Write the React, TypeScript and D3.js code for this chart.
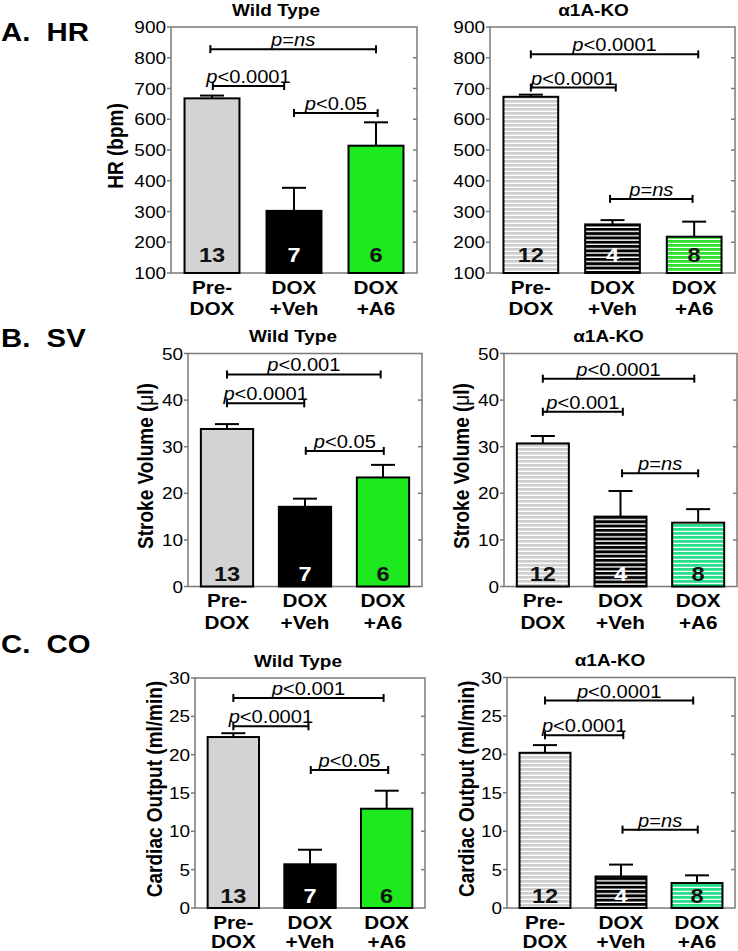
import React from 'react';
import * as d3 from 'd3';

// groups on the x axis
const groups = ['Pre-DOX', 'DOX+Veh', 'DOX+A6'];
const groupLines = [['Pre-', 'DOX'], ['DOX', '+Veh'], ['DOX', '+A6']];

// animals per group
const nWT = [13, 7, 6];
const nKO = [12, 4, 8];

// means and SEM
const hrWT = [668, 302, 514];
const hrWTsem = [9, 75, 76];
const hrKO = [673, 258, 218];
const hrKOsem = [7, 14, 49];

const svWT = [33.8, 17.1, 23.4];
const svWTsem = [1.05, 1.75, 2.7];
const svKO = [30.7, 15.0, 13.7];
const svKOsem = [1.6, 5.5, 2.9];

const coWT = [22.3, 5.7, 12.95];
const coWTsem = [0.5, 1.9, 2.35];
const coKO = [20.2, 4.1, 3.25];
const coKOsem = [1.0, 1.55, 1.0];

// significance brackets: from/to in group positions, y in data units
const hrWTp = [
    { from: -0.02, to: 2.0, y: 828, label: 'p=ns' },
    { from: 0.01, to: 0.88, y: 708, label: 'p<0.0001' },
    { from: 1.0, to: 2.02, y: 620, label: 'p<0.05' },
];
const hrKOp = [
    { from: 0, to: 2.05, y: 811, label: 'p<0.0001' },
    { from: 0, to: 1.04, y: 703, label: 'p<0.0001' },
    { from: 0.97, to: 1.98, y: 341, label: 'p=ns' },
];
const svWTp = [
    { from: 0, to: 1.97, y: 45.5, label: 'p<0.001' },
    { from: 0, to: 0.99, y: 39.3, label: 'p<0.0001' },
    { from: 1.01, to: 2.01, y: 29.1, label: 'p<0.05' },
];
const svKOp = [
    { from: 0, to: 1.95, y: 44.6, label: 'p<0.0001' },
    { from: 0, to: 1.03, y: 37.5, label: 'p<0.001' },
    { from: 1.02, to: 2.0, y: 24.3, label: 'p=ns' },
];
const coWTp = [
    { from: 0, to: 1.96, y: 27.4, label: 'p<0.001' },
    { from: 0, to: 0.98, y: 23.7, label: 'p<0.0001' },
    { from: 1.01, to: 2.02, y: 18.0, label: 'p<0.05' },
];
const coKOp = [
    { from: 0, to: 1.95, y: 27.0, label: 'p<0.0001' },
    { from: 0, to: 1.03, y: 22.5, label: 'p<0.0001' },
    { from: 1.02, to: 2.01, y: 10.2, label: 'p=ns' },
];

const hrTicks = d3.range(100, 901, 100);
const svTicks = d3.range(0, 51, 10);
const coTicks = d3.range(0, 31, 5);

const FONT = '"Liberation Sans", Arial, Helvetica, sans-serif';
const SX = 1.15; // the figure's text is a little wide

const wtFills = ['#d3d3d3', '#000000', '#1ee81e'];
const wtN = ['#111', '#fff', '#111'];

interface PanelCfg {
    title: string;
    yLabel?: React.ReactNode;
    ko: boolean;
    means: number[];
    sems: number[];
    n: number[];
    brackets: { from: number; to: number; y: number; label: string }[];
    domain: [number, number];
    ticks: number[];
    x0: number; x1: number; yt: number; yb: number;
    labelGap: number;
    titleShift: number;
    nOff: number;
    koGreen?: string;
}

const T = ({ x, y, size, weight = 'normal', anchor = 'middle', fill = '#000', children }: any) => (
    <text
        transform={`translate(${x},${y}) scale(${SX},1)`}
        textAnchor={anchor}
        fontSize={size}
        fontWeight={weight}
        fill={fill}
        fontFamily={FONT}
        style={{ whiteSpace: 'pre' }}
    >
        {children}
    </text>
);

const PLabel = ({ label }: { label: string }) => {
    const rest = label.slice(1);
    if (rest.startsWith('=ns')) {
        return (<><tspan fontStyle="italic">p</tspan><tspan>=</tspan><tspan fontStyle="italic">ns</tspan></>);
    }
    return (<><tspan fontStyle="italic">p</tspan><tspan>{rest}</tspan></>);
};

const Panel = ({ c, id }: { c: PanelCfg; id: string }) => {
    const x = d3.scaleBand<string>()
        .domain(groups)
        .range([c.x0, c.x1])
        .paddingInner(0.33)
        .paddingOuter(0.165);
    const y = d3.scaleLinear().domain(c.domain).range([c.yb, c.yt]);
    const bw = x.bandwidth();
    const cx = (i: number) => (x(groups[i]) as number) + bw / 2;
    const pos = (v: number) => cx(0) + v * x.step();
    const fills = c.ko
        ? [`url(#${id}-g)`, `url(#${id}-k)`, `url(#${id}-n)`]
        : wtFills;
    const axisCol = '#7a7a7a';

    return (
        <g>
            {c.ko && (
                <defs>
                    <pattern id={`${id}-g`} patternUnits="userSpaceOnUse" width="8" height="4">
                        <rect width="8" height="4" fill="#fff" />
                        <rect width="8" height="2.6" fill="#cdcdcd" />
                    </pattern>
                    <pattern id={`${id}-k`} patternUnits="userSpaceOnUse" width="8" height="4.3">
                        <rect width="8" height="4.3" fill="#fff" />
                        <rect width="8" height="2.9" fill="#000" />
                    </pattern>
                    <pattern id={`${id}-n`} patternUnits="userSpaceOnUse" width="8" height="4">
                        <rect width="8" height="4" fill="#fff" />
                        <rect width="8" height="2.8" fill={c.koGreen} />
                    </pattern>
                </defs>
            )}

            {/* title */}
            <T x={(c.x0 + c.x1) / 2 - c.titleShift} y={c.yt - 11.5} size={16.5} weight="bold">{c.title}</T>

            {/* frame */}
            <rect x={c.x0} y={c.yt} width={c.x1 - c.x0} height={c.yb - c.yt}
                fill="none" stroke={axisCol} strokeWidth={1.5} />
            {c.ticks.map(t => (
                <g key={t}>
                    <line x1={c.x0 - 4} x2={c.x0} y1={y(t)} y2={y(t)} stroke={axisCol} strokeWidth={1.5} />
                    {t !== c.domain[0] && t !== c.domain[1] && (
                        <line x1={c.x1 - 4} x2={c.x1} y1={y(t)} y2={y(t)} stroke={axisCol} strokeWidth={1.5} />
                    )}
                    <T x={c.x0 - 5} y={y(t) + 6} size={16.5} anchor="end">{t}</T>
                </g>
            ))}

            {/* y label */}
            {c.yLabel && (
                <text
                    transform={`translate(${c.x0 - c.labelGap},${(c.yt + c.yb) / 2 - 4}) rotate(-90) scale(1,${SX})`}
                    textAnchor="middle" fontSize={19} fontWeight="bold" fontFamily={FONT}
                >
                    {c.yLabel}
                </text>
            )}

            {/* error bars */}
            {c.means.map((m, i) => (
                <g key={'e' + i} stroke="#000" strokeWidth={2}>
                    <line x1={cx(i)} x2={cx(i)} y1={y(m)} y2={y(m + c.sems[i])} />
                    <line x1={cx(i) - 12} x2={cx(i) + 12} y1={y(m + c.sems[i])} y2={y(m + c.sems[i])} />
                </g>
            ))}

            {/* bars */}
            {c.means.map((m, i) => (
                <rect key={'b' + i} x={x(groups[i])} y={y(m)} width={bw} height={c.yb - y(m)}
                    fill={fills[i]} stroke="#000" strokeWidth={2} />
            ))}

            {/* n */}
            {c.n.map((n, i) => (
                <T key={'n' + i} x={cx(i)} y={c.yb - c.nOff} size={20.5} weight="bold" fill={wtN[i]}>{n}</T>
            ))}

            {/* brackets */}
            {c.brackets.map((b, i) => {
                const a = pos(b.from);
                const e = pos(b.to);
                const yy = y(b.y);
                return (
                    <g key={'p' + i}>
                        <g stroke="#000" strokeWidth={2}>
                            <line x1={a} x2={e} y1={yy} y2={yy} />
                            <line x1={a} x2={a} y1={yy - 4} y2={yy + 4} />
                            <line x1={e} x2={e} y1={yy - 4} y2={yy + 4} />
                        </g>
                        <T x={(a + e) / 2} y={yy - 3} size={17.5}><PLabel label={b.label} /></T>
                    </g>
                );
            })}

            {/* group labels */}
            {groupLines.map((ls, i) => (
                <g key={'g' + i}>
                    <T x={cx(i)} y={c.yb + 20.5} size={18} weight="bold">{ls[0]}</T>
                    <T x={cx(i)} y={Math.min(c.yb + 42, 948)} size={18} weight="bold">{ls[1]}</T>
                </g>
            ))}
        </g>
    );
};

const hrLabel = 'HR (bpm)';
const svLabel = (<>Stroke Volume (<tspan fontWeight="normal">μ</tspan>l)</>);
const coLabel = 'Cardiac Output (ml/min)';

const panels: { id: string; c: PanelCfg }[] = [
    {
        id: 'a1', c: {
            title: 'Wild Type', yLabel: hrLabel, ko: false, means: hrWT, sems: hrWTsem, n: nWT,
            brackets: hrWTp, domain: [100, 900], ticks: hrTicks,
            x0: 171, x1: 417, yt: 27, yb: 273, labelGap: 48, titleShift: 18, nOff: 11,
        }
    },
    {
        id: 'a2', c: {
            title: 'α1A-KO', ko: true, means: hrKO, sems: hrKOsem, n: nKO,
            brackets: hrKOp, domain: [100, 900], ticks: hrTicks,
            x0: 490, x1: 735, yt: 27, yb: 273, labelGap: 48, titleShift: 19, nOff: 11, koGreen: '#2ee02e',
        }
    },
    {
        id: 'b1', c: {
            title: 'Wild Type', yLabel: svLabel, ko: false, means: svWT, sems: svWTsem, n: nWT,
            brackets: svWTp, domain: [0, 50], ticks: svTicks,
            x0: 188, x1: 422, yt: 353.5, yb: 586.5, labelGap: 35, titleShift: 12, nOff: 6,
        }
    },
    {
        id: 'b2', c: {
            title: 'α1A-KO', yLabel: svLabel, ko: true, means: svKO, sems: svKOsem, n: nKO,
            brackets: svKOp, domain: [0, 50], ticks: svTicks,
            x0: 504, x1: 737, yt: 353.5, yb: 586.5, labelGap: 35, titleShift: 12, nOff: 6, koGreen: '#26df8a',
        }
    },
    {
        id: 'c1', c: {
            title: 'Wild Type', yLabel: coLabel, ko: false, means: coWT, sems: coWTsem, n: nWT,
            brackets: coWTp, domain: [0, 30], ticks: coTicks,
            x0: 195, x1: 425, yt: 678, yb: 908, labelGap: 33, titleShift: 12, nOff: 5,
        }
    },
    {
        id: 'c2', c: {
            title: 'α1A-KO', yLabel: coLabel, ko: true, means: coKO, sems: coKOsem, n: nKO,
            brackets: coKOp, domain: [0, 30], ticks: coTicks,
            x0: 507, x1: 735, yt: 677.5, yb: 908, labelGap: 33, titleShift: 11, nOff: 5, koGreen: '#26df8a',
        }
    },
];

const rowLabels = [
    { text: 'A.  HR', y: 41 },
    { text: 'B.  SV', y: 347 },
    { text: 'C.  CO', y: 653 },
];

export default function App() {
    return (
        <svg width={738} height={951} style={{ position: 'absolute', left: 0, top: 0, background: '#fff' }}>
            <rect width={738} height={951} fill="#fff" />
            {rowLabels.map(r => (
                <T key={r.text} x={1} y={r.y} size={25.5} weight="bold" anchor="start">{r.text}</T>
            ))}
            {panels.map(p => <Panel key={p.id} id={p.id} c={p.c} />)}
        </svg>
    );
}
